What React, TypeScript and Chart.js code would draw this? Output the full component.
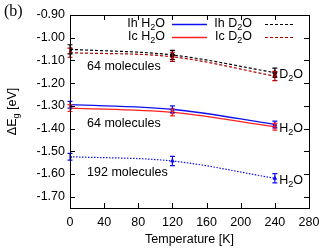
import React, { useEffect, useRef } from "react";
import { Chart, registerables } from "chart.js";

Chart.register(...registerables);

const TEMPS = [0, 120, 240];
const IH_D2O = [-1.051, -1.076, -1.154];
const IC_D2O = [-1.066, -1.084, -1.169];
const IH_H2O = [-1.295, -1.315, -1.382];
const IC_H2O = [-1.31, -1.329, -1.392];
const IH_H2O_192 = [-1.524, -1.543, -1.619];
const ERR_IH_D2O = [0.02, 0.02, 0.02];
const ERR_IC_D2O = [0.02, 0.02, 0.02];
const ERR_IH_H2O = [0.015, 0.015, 0.015];
const ERR_IC_H2O = [0.015, 0.015, 0.015];
const ERR_192 = [0.015, 0.02, 0.02];
const X_TICKS = [0, 40, 80, 120, 160, 200, 240, 280];
const Y_TICKS = [-1.7, -1.6, -1.5, -1.4, -1.3, -1.2, -1.1, -1.0, -0.9];
const ANNOTATIONS = [
  { x: 20, y: -1.125, text: "64 molecules" },
  { x: 20, y: -1.376, text: "64 molecules" },
  { x: 20, y: -1.596, text: "192 molecules" },
];
const SPECIES = [
  { x: 245, y: -1.164, base: "D", sub: "2", tail: "O" },
  { x: 245, y: -1.398, base: "H", sub: "2", tail: "O" },
  { x: 245, y: -1.627, base: "H", sub: "2", tail: "O" },
];

const FONT = "Liberation Sans, Arial, sans-serif";
const FS = 12.5;

function drawSub(ctx: CanvasRenderingContext2D, x: number, y: number, parts: { t: string; sub?: boolean }[], align: "left" | "right" | "center") {
  const widths = parts.map((p) => {
    ctx.font = `${p.sub ? FS * 0.72 : FS}px ${FONT}`;
    return ctx.measureText(p.t).width;
  });
  const total = widths.reduce((a, b) => a + b, 0);
  let cx = align === "left" ? x : align === "right" ? x - total : x - total / 2;
  ctx.textBaseline = "middle";
  ctx.textAlign = "left";
  parts.forEach((p, i) => {
    ctx.font = `${p.sub ? FS * 0.72 : FS}px ${FONT}`;
    ctx.fillText(p.t, cx, p.sub ? y + 4 : y);
    cx += widths[i];
  });
}

const series = [
  { label: "Ih D2O", data: IH_D2O, err: ERR_IH_D2O, color: "#000000", dash: [3, 2], width: 1.2, style: "circle" },
  { label: "Ic D2O", data: IC_D2O, err: ERR_IC_D2O, color: "#b00000", dash: [3, 2], width: 1.2, style: "rect" },
  { label: "Ih H2O", data: IH_H2O, err: ERR_IH_H2O, color: "#1010ee", dash: [], width: 1.3, style: "triangle" },
  { label: "Ic H2O", data: IC_H2O, err: ERR_IC_H2O, color: "#ff2020", dash: [], width: 1.3, style: "rect" },
  { label: "192", data: IH_H2O_192, err: ERR_192, color: "#1010ee", dash: [1.5, 1.5], width: 1.2, style: "triangle" },
];

const decoPlugin = {
  id: "deco",
  afterDatasetsDraw(chart: any) {
    const ctx: CanvasRenderingContext2D = chart.ctx;
    const xs = chart.scales.x;
    const ys = chart.scales.y;
    const { left, right, top, bottom } = chart.chartArea;
    ctx.save();
    // error bars
    series.forEach((s) => {
      ctx.strokeStyle = s.color;
      ctx.lineWidth = 1.2;
      ctx.setLineDash([]);
      TEMPS.forEach((t, i) => {
        const px = xs.getPixelForValue(t);
        const y1 = ys.getPixelForValue(s.data[i] + s.err[i]);
        const y2 = ys.getPixelForValue(s.data[i] - s.err[i]);
        ctx.beginPath();
        ctx.moveTo(px, y1);
        ctx.lineTo(px, y2);
        ctx.moveTo(px - 2.5, y1);
        ctx.lineTo(px + 2.5, y1);
        ctx.moveTo(px - 2.5, y2);
        ctx.lineTo(px + 2.5, y2);
        ctx.stroke();
      });
    });
    // frame
    ctx.strokeStyle = "#000";
    ctx.lineWidth = 1;
    ctx.strokeRect(Math.round(left) + 0.5, Math.round(top) + 0.5, Math.round(right - left), Math.round(bottom - top));
    // ticks
    ctx.beginPath();
    X_TICKS.forEach((t) => {
      const px = Math.round(xs.getPixelForValue(t)) + 0.5;
      ctx.moveTo(px, bottom);
      ctx.lineTo(px, bottom - 5);
      ctx.moveTo(px, top);
      ctx.lineTo(px, top + 5);
    });
    Y_TICKS.forEach((t) => {
      const py = Math.round(ys.getPixelForValue(t)) + 0.5;
      ctx.moveTo(left, py);
      ctx.lineTo(left + 5, py);
      ctx.moveTo(right, py);
      ctx.lineTo(right - 5, py);
    });
    ctx.stroke();
    ctx.fillStyle = "#000";
    // annotations
    ANNOTATIONS.forEach((a) => {
      ctx.font = `${FS}px ${FONT}`;
      ctx.textAlign = "left";
      ctx.textBaseline = "middle";
      ctx.fillText(a.text, xs.getPixelForValue(a.x), ys.getPixelForValue(a.y));
    });
    SPECIES.forEach((s) => {
      drawSub(ctx, xs.getPixelForValue(s.x), ys.getPixelForValue(s.y), [{ t: s.base }, { t: s.sub, sub: true }, { t: s.tail }], "left");
    });
    // legend
    const legendRows = [
      [{ name: "Ih", s: series[2] }, { name: "Ih", s: series[0] }],
      [{ name: "Ic", s: series[3] }, { name: "Ic", s: series[1] }],
    ];
    const colText = [165, 252];
    const colLine = [[172, 207], [265, 293]];
    const rowY = [top + 9, top + 22];
    legendRows.forEach((row, ri) => {
      row.forEach((e, ci) => {
        ctx.fillStyle = "#000";
        const mol = ci === 0 ? "H" : "D";
        drawSub(ctx, colText[ci], rowY[ri], [{ t: e.name + " " + mol }, { t: "2", sub: true }, { t: "O" }], "right");
        ctx.strokeStyle = e.s.color;
        ctx.lineWidth = e.s.width;
        ctx.setLineDash(e.s.dash);
        ctx.beginPath();
        ctx.moveTo(colLine[ci][0], Math.round(rowY[ri]) + 0.5);
        ctx.lineTo(colLine[ci][1], Math.round(rowY[ri]) + 0.5);
        ctx.stroke();
        ctx.setLineDash([]);
      });
    });
    // axis titles
    ctx.fillStyle = "#000";
    ctx.font = `${FS}px ${FONT}`;
    ctx.textAlign = "center";
    ctx.textBaseline = "middle";
    ctx.fillText("Temperature [K]", (left + right) / 2, 240);
    ctx.save();
    ctx.translate(13, (top + bottom) / 2);
    ctx.rotate(-Math.PI / 2);
    drawSub(ctx, 0, 0, [{ t: "\u0394E" }, { t: "g", sub: true }, { t: " [eV]" }], "center");
    ctx.restore();
    ctx.font = `16px "Liberation Serif", "DejaVu Serif", serif`;
    ctx.textAlign = "left";
    ctx.textBaseline = "middle";
    ctx.fillText("(b)", 4, 12);
    ctx.restore();
  },
};

export default function App() {
  const ref = useRef<HTMLCanvasElement>(null);
  useEffect(() => {
    if (!ref.current) return;
    const chart = new Chart(ref.current, {
      type: "line",
      data: {
        datasets: series.map((s) => ({
          label: s.label,
          data: TEMPS.map((t, i) => ({ x: t, y: s.data[i] })),
          borderColor: s.color,
          backgroundColor: s.color,
          borderDash: s.dash,
          borderWidth: s.width,
          pointStyle: s.style as any,
          pointRadius: 2,
          pointBorderWidth: 1,
          cubicInterpolationMode: "monotone" as const,
          fill: false,
        })),
      },
      options: {
        animation: false,
        responsive: false,
        maintainAspectRatio: false,
        layout: { padding: { top: 15, right: 23, left: 0, bottom: 0 } },
        plugins: { legend: { display: false }, tooltip: { enabled: false } },
        scales: {
          x: {
            type: "linear",
            min: 0,
            max: 280,
            grid: { display: false, drawTicks: false },
            border: { display: false },
            afterBuildTicks: (scale: any) => {
              scale.ticks = X_TICKS.map((v) => ({ value: v }));
            },
            afterFit: (scale: any) => {
              scale.height = 41;
            },
            ticks: { color: "#000", padding: 7, font: { family: FONT, size: FS }, maxRotation: 0, callback: (v: any) => String(v) },
          },
          y: {
            type: "linear",
            min: -1.75,
            max: -0.9,
            grid: { display: false, drawTicks: false },
            border: { display: false },
            afterBuildTicks: (scale: any) => {
              scale.ticks = Y_TICKS.map((v) => ({ value: v }));
            },
            afterFit: (scale: any) => {
              scale.width = 70;
            },
            ticks: { color: "#000", padding: 5, font: { family: FONT, size: FS }, callback: (v: any) => Number(v).toFixed(2) },
          },
        },
      },
      plugins: [decoPlugin],
    });
    return () => chart.destroy();
  }, []);
  return (
    <div style={{ position: "fixed", left: 0, top: 0, width: 332, height: 249, background: "#fff" }}>
      <canvas ref={ref} width={332} height={249} style={{ width: 332, height: 249 }} />
    </div>
  );
}
